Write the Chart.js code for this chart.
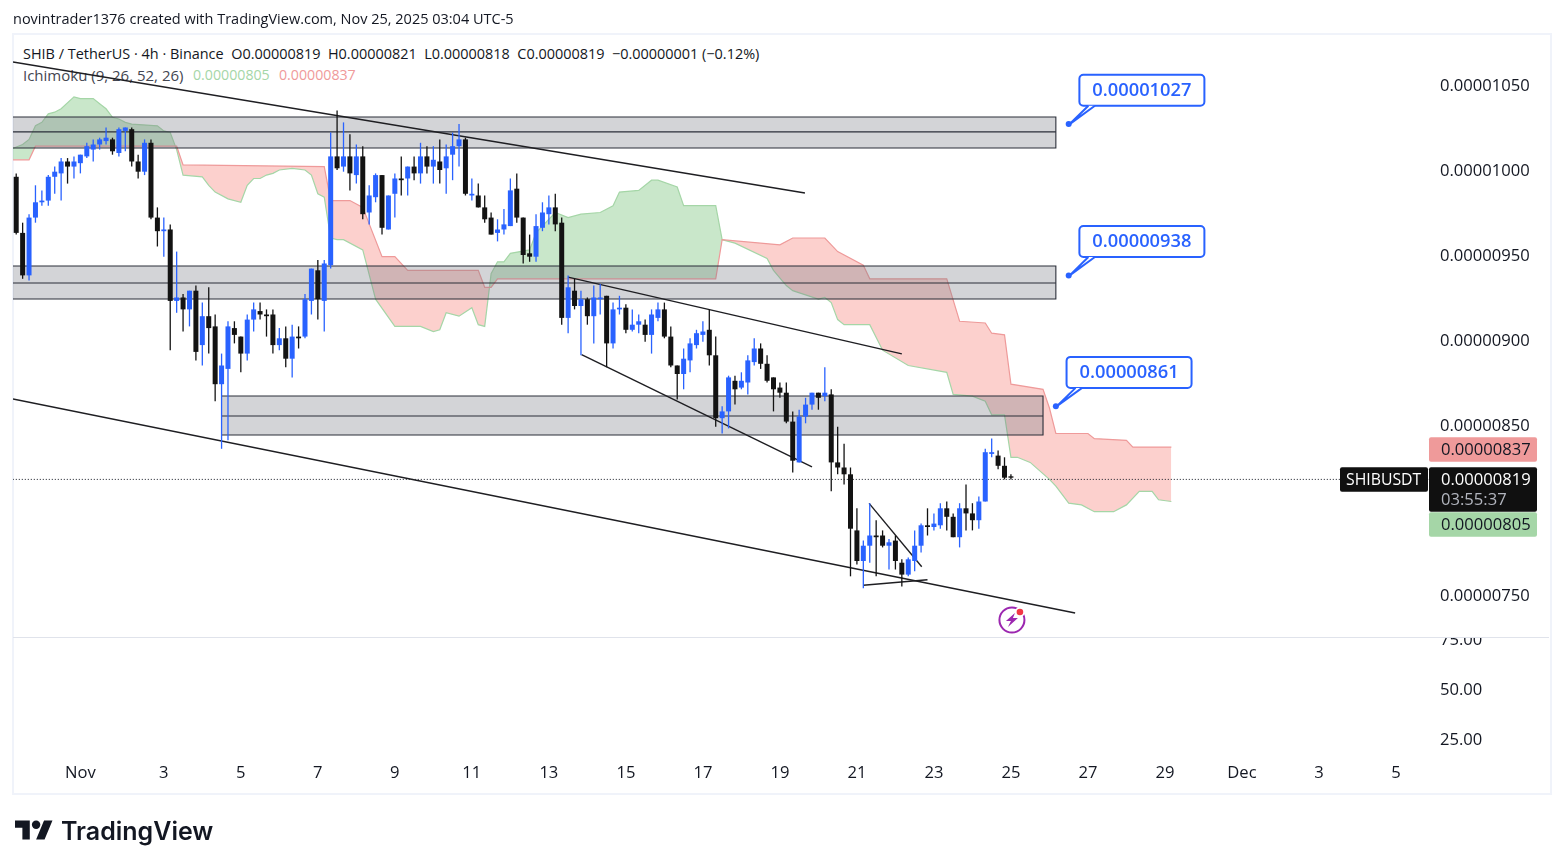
<!DOCTYPE html>
<html>
<head>
<meta charset="utf-8">
<title>SHIBUSDT</title>
<script src="https://cdn.jsdelivr.net/npm/chart.js@4/dist/chart.umd.min.js"></script>
<style>
  html, body { margin: 0; padding: 0; background: #fff; width: 1563px; height: 868px; overflow: hidden; }
  body { font-family: "Open Sans", sans-serif; color: #131722; position: relative; }
  #frame { position: absolute; left: 12px; top: 33px; width: 1536px; height: 758px; border: 2px solid #f0f3fa; }
  #chart { position: absolute; left: 0; top: 0; z-index: 2; }
  .txt { position: absolute; white-space: pre; font-size: 14.45px; line-height: 18px; z-index: 1; }
  #byline { left: 13px; top: 10px; font-size: 14.5px; z-index: 3; }
  #legend1 { left: 23px; top: 45px; }
  #legend2 { left: 23px; top: 66px; color: #434651; font-size: 15px; }
  #legendA { left: 193px; top: 66px; color: #a5d6a7; font-size: 14.2px; }
  #legendB { left: 279px; top: 66px; color: #ef9a9a; font-size: 14.2px; }
  #logo { position: absolute; left: 15px; top: 816px; z-index: 3; }
  #logotext { position: absolute; left: 61px; top: 814px; font: 600 25px/34px Inter, sans-serif; z-index: 3; color: #131722; }
</style>
</head>
<body>
<div id="frame"></div>
<div class="txt" id="byline">novintrader1376 created with TradingView.com, Nov 25, 2025 03:04 UTC-5</div>
<div class="txt" id="legend1">SHIB / TetherUS · 4h · Binance  O0.00000819  H0.00000821  L0.00000818  C0.00000819  −0.00000001 (−0.12%)</div>
<div class="txt" id="legend2">Ichimoku (9, 26, 52, 26)</div>
<div class="txt" id="legendA">0.00000805</div>
<div class="txt" id="legendB">0.00000837</div>
<canvas id="chart" width="1563" height="868"></canvas>
<svg id="logo" width="38" height="30" viewBox="0 0 36 28"><path fill="#131722" d="M14 22H7V11H0V4h14v18zM28 22h-8l7.5-18h8L28 22z"/><circle fill="#131722" cx="20" cy="8" r="4"/></svg>
<div id="logotext">TradingView</div>
<script>
// prices are in units of 0.00000001, one candle every 4h
const opens = [
  996,963,938,972,981,982,996,998,1005,1002,
  1004,1008,1012,1015,1017,1018,1010,1023,1024,1005,
  999,1016,972,964,965,923,925,918,929,897,
  914,908,874,883,907,902,892,912,917,915,
  915,897,901,889,902,902,923,941,923,944,
  1008,1002,1008,997,1008,975,984,997,965,986,
  995,995,1002,998,1008,1002,1005,1001,1009,1014,
  1018,985,985,978,972,963,965,967,989,972,
  951,949,966,974,978,969,913,929,920,924,
  914,924,926,898,918,919,906,909,909,903,
  913,918,902,885,880,888,897,903,906,891,
  854,858,876,872,875,887,895,886,878,872,
  869,852,828,855,862,869,867,868,828,825,
  821,788,770,779,785,785,779,782,769,762,
  770,779,791,790,791,801,796,784,801,798,
  794,805,833,832,826,819,
];
const highs = [
  998,969,974,991,988,997,1002,1007,1007,1008,
  1009,1016,1018,1019,1025,1019,1025,1025,1025,1009,
  1018,1018,978,972,968,952,927,929,932,922,
  931,915,892,911,911,902,915,922,922,918,
  918,907,908,909,908,927,942,947,947,1022,
  1035,1028,1021,1015,1014,991,998,997,985,998,
  1008,1002,1008,1016,1014,1014,1018,1015,1022,1027,
  1019,995,992,985,975,971,977,995,998,972,
  962,974,981,985,986,972,938,936,929,925,
  932,933,926,922,926,921,918,915,912,918,
  922,922,908,885,895,901,906,911,918,902,
  861,879,879,881,891,901,898,891,878,875,
  875,858,859,866,869,869,884,871,849,839,
  825,801,782,804,794,788,783,785,771,772,
  788,792,801,798,804,805,798,804,815,804,
  808,836,842,835,831,821,
];
const lows = [
  962,936,935,969,979,979,986,982,992,995,
  998,1007,1005,1012,1015,1009,1008,1011,1002,995,
  997,971,955,949,894,916,905,908,888,885,
  892,864,836,841,898,881,888,905,912,902,
  892,894,884,878,895,901,915,912,905,942,
  1000,999,988,992,971,968,981,962,965,972,
  985,985,994,992,998,992,992,986,994,1002,
  985,982,978,969,962,958,962,967,969,945,
  946,946,964,968,964,909,904,918,891,909,
  898,915,884,895,915,904,905,904,899,892,
  911,901,884,865,871,881,895,899,885,849,
  845,848,862,871,868,885,883,875,858,866,
  851,822,828,851,859,859,864,811,821,815,
  761,768,754,769,761,778,765,765,755,761,
  764,775,785,788,789,788,784,778,788,788,
  789,805,831,824,818,818,
];
const closes = [
  963,938,972,981,982,996,999,1005,1002,1005,
  1009,1014,1015,1018,1019,1011,1024,1025,1005,999,
  1016,972,964,965,923,925,918,929,893,914,
  907,874,885,908,903,892,912,918,915,914,
  897,901,889,902,901,924,942,924,945,1008,
  1001,1008,998,1008,974,985,997,966,985,995,
  994,1002,998,1008,1002,1006,1000,1008,1014,1018,
  986,986,978,971,962,965,968,988,972,950,
  949,967,975,978,968,913,931,920,924,914,
  925,925,898,918,919,906,909,911,903,915,
  918,902,885,880,889,898,904,905,891,854,
  858,878,871,876,888,895,886,876,871,869,
  852,829,855,862,869,866,869,828,825,821,
  789,770,779,785,784,779,781,770,762,771,
  779,791,790,792,801,796,784,801,798,794,
  805,834,834,826,819,819,
];

const spanABars = [-1,1,2,3,4,5,6,7,9,10,12,13,14,15,16,17,18,22,23,24,25,26,29,30,31,33,35,36,37,38,39,40,41,43,45,46,47,48,49,50,51,54,56,59,63,65,66,67,69,71,72,73,74,75,76,77,80,81,84,86,88,91,93,94,97,99,100,103,104,109,110,112,117,118,120,121,125,126,127,128,129,130,133,135,139,145,146,149,151,152,154,155,156,158,161,162,163,164,166,168,171,173,175,177,178,180];
const spanAPrices = [1012,1015,1018,1026,1028,1033,1034,1036,1043,1042,1042,1039,1036,1031,1030,1028,1027,1026,1023,1022,1012,997,996,991,987,983,981,991,995,995,997,998,1000,1001,1000,997,986,984,960,959,959,953,924,908,908,905,906,916,914,919,909,908,939,946,946,951,953,963,975,972,974,975,979,987,988,994,994,990,979,979,959,957,948,941,932,929,924,925,922,912,909,909,909,894,885,881,868,867,864,856,856,831,831,828,818,814,809,804,803,799,799,803,811,811,806,805];
const spanBBars = [-1,2,3,25,26,48,49,52,54,57,59,61,72,73,74,75,109,110,119,121,126,128,132,133,145,147,151,152,154,155,160,161,162,167,168,173,174,180];
const spanBPrices = [1006,1006,1014,1014,1003,1002,982,982,978,949,949,941,941,931,931,936,936,959,956,960,960,952,944,936,936,911,910,904,903,874,871,860,845,845,842,841,837,837];

const zoneLeft = [-1, -1, 32];
const zoneRight = [162, 162, 160];
const zoneTop = [1031.2, 943.5, 867.1];
const zoneMid = [1022.4, 933.5, 855.3];
const zoneBottom = [1012.9, 924.1, 844.1];

const trendFromBar = [-0.5, -0.5, 86, 88.1, 132.9, 132];
const trendFromPrice = [1063.5, 865.3, 937, 891.4, 803.9, 755.7];
const trendToBar = [122.9, 165, 138, 124, 141.1, 142];
const trendToPrice = [986.5, 739.4, 891.8, 825.3, 766.6, 759];

const calloutBars = [164, 164, 162];
const calloutPrices = [1027, 938, 861];

const tickBars = [10, 23, 35, 47, 59, 71, 83, 95, 107, 119, 131, 143, 155, 167, 179, 191, 203, 215];
const tickLabels = ['Nov', '3', '5', '7', '9', '11', '13', '15', '17', '19', '21', '23', '25', '27', '29', 'Dec', '3', '5'];
const priceTicks = [750, 850, 900, 950, 1000, 1050];
const lowerTicks = [25, 50, 75];

const lastPrice = 819;
const priceLineLevel = 818;
const spanAPrice = 805;
const spanBPrice = 837;
const lastBar = 155;

const BLUE = '#2962ff';
const BLACK = '#131313';
const AXIS_FONT = '16.6px "Open Sans", sans-serif';

function fmtPrice(v) {
  return '0.' + String(Math.round(v)).padStart(8, '0');
}

function lineSet(points, extra) {
  return Object.assign({
    type: 'line',
    data: points,
    pointRadius: 0,
    tension: 0,
    fill: false,
    borderColor: '#1e1e22',
    borderWidth: 1.4,
    order: 5,
  }, extra);
}

function pairs(bars, prices) {
  return bars.map((b, i) => ({ x: b, y: prices[i] }));
}

const datasets = [];

// candles: wicks first so that the bodies land on top
datasets.push({
  type: 'bar',
  data: highs.map((h, i) => ({ x: i, y: [lows[i], h] })),
  backgroundColor: closes.map((c, i) => (c > opens[i] ? BLUE : BLACK)),
  barThickness: 1.3,
  maxBarThickness: 1.3,
  grouped: false,
  inflateAmount: 0,
  borderWidth: 0,
  order: 2,
});
datasets.push({
  type: 'bar',
  data: opens.map((o, i) => ({ x: i, y: [Math.min(o, closes[i]), Math.max(o, closes[i])] })),
  backgroundColor: closes.map((c, i) => (c > opens[i] ? BLUE : BLACK)),
  barThickness: 5,
  maxBarThickness: 5,
  barPercentage: 1,
  categoryPercentage: 1,
  minBarLength: 1.4,
  grouped: false,
  inflateAmount: 0,
  borderWidth: 0,
  order: 1,
});

zoneTop.forEach((top, i) => {
  const l = zoneLeft[i], r = zoneRight[i], b = zoneBottom[i];
  datasets.push(lineSet(pairs([l, r], [top, top]), {
    borderWidth: 0,
    fill: { target: { value: b } },
    backgroundColor: 'rgba(120,123,134,0.33)',
    order: 8,
  }));
  datasets.push(lineSet(pairs([l, r, r, l], [top, top, b, b]), { borderColor: '#2a2e39', borderWidth: 1.1, order: 7 }));
  datasets.push(lineSet(pairs([l, r], [zoneMid[i], zoneMid[i]]), { borderColor: '#2a2e39', borderWidth: 1.1, order: 7 }));
});

for (let i = 0; i < trendFromBar.length; i++) {
  datasets.push(lineSet(pairs([trendFromBar[i], trendToBar[i]], [trendFromPrice[i], trendToPrice[i]]), { order: 3 }));
}

datasets.push(lineSet(pairs([-1, 221], [priceLineLevel, priceLineLevel]), {
  borderColor: '#131722',
  borderWidth: 1,
  borderDash: [1, 2],
  order: 4,
}));

// ichimoku cloud, span A fills against span B which is pushed right after it
const spanAIndex = datasets.length;
datasets.push(lineSet(pairs(spanABars, spanAPrices), {
  borderColor: '#a5d6a7',
  borderWidth: 1.2,
  fill: { target: spanAIndex + 1, above: 'rgba(76,175,80,0.3)', below: 'rgba(244,67,54,0.25)' },
  order: 10,
}));
datasets.push(lineSet(pairs(spanBBars, spanBPrices), {
  borderColor: '#ef9a9a',
  borderWidth: 1.2,
  order: 9,
}));

function drawCallouts(ctx, chart) {
  const xs = chart.scales.x, ys = chart.scales.y;
  calloutBars.forEach((bar, i) => {
    const px = xs.getPixelForValue(bar);
    const py = ys.getPixelForValue(calloutPrices[i]);
    const bx = px + 10.7, by = py - 49.4, bw = 125, bh = 31;
    ctx.save();
    ctx.strokeStyle = BLUE;
    ctx.fillStyle = '#fff';
    ctx.lineWidth = 2;
    ctx.beginPath();
    ctx.roundRect(bx, by, bw, bh, 4);
    ctx.fill();
    ctx.stroke();
    ctx.beginPath();
    ctx.moveTo(bx + 9, by + bh);
    ctx.lineTo(px + 1, py);
    ctx.lineTo(bx + 15.5, by + bh);
    ctx.closePath();
    ctx.fill();
    ctx.beginPath();
    ctx.moveTo(bx + 9, by + bh);
    ctx.lineTo(px + 1, py);
    ctx.lineTo(bx + 15.5, by + bh);
    ctx.stroke();
    ctx.fillStyle = BLUE;
    ctx.beginPath();
    ctx.arc(px, py, 3, 0, Math.PI * 2);
    ctx.fill();
    ctx.font = '600 18.3px "Open Sans", sans-serif';
    ctx.textAlign = 'center';
    ctx.textBaseline = 'middle';
    ctx.fillText(fmtPrice(calloutPrices[i]), bx + bw / 2, by + 16);
    ctx.restore();
  });
}

function drawBadges(ctx) {
  ctx.save();
  ctx.font = AXIS_FONT;
  ctx.textBaseline = 'middle';
  ctx.textAlign = 'left';
  ctx.fillStyle = '#ef9a9a';
  ctx.beginPath(); ctx.roundRect(1429, 437.3, 108, 24.4, 2); ctx.fill();
  ctx.fillStyle = '#131722';
  ctx.fillText(fmtPrice(spanBPrice), 1441, 450);

  ctx.fillStyle = '#a5d6a7';
  ctx.beginPath(); ctx.roundRect(1429, 512.3, 108, 24.4, 2); ctx.fill();
  ctx.fillStyle = '#131722';
  ctx.fillText(fmtPrice(spanAPrice), 1441, 525);

  ctx.fillStyle = '#101010';
  ctx.beginPath(); ctx.roundRect(1429, 467.3, 108, 44.4, 2); ctx.fill();
  ctx.beginPath(); ctx.roundRect(1340, 467.3, 88, 24.4, 2); ctx.fill();
  ctx.fillStyle = '#fff';
  ctx.fillText(fmtPrice(lastPrice), 1441, 480);
  ctx.font = '15.8px "Open Sans", sans-serif';
  ctx.fillText('SHIBUSDT', 1346, 480);
  ctx.font = AXIS_FONT;
  ctx.fillStyle = '#b2b5be';
  ctx.fillText('03:55:37', 1441, 500);
  ctx.restore();
}

function drawIcon(ctx, chart) {
  const cx = chart.scales.x.getPixelForValue(lastBar) + 1;
  const cy = 620;
  ctx.save();
  ctx.strokeStyle = '#9c27b0';
  ctx.fillStyle = '#9c27b0';
  ctx.lineWidth = 2;
  ctx.beginPath();
  ctx.arc(cx, cy, 12.5, 0, Math.PI * 2);
  ctx.stroke();
  ctx.beginPath();
  ctx.moveTo(cx + 3, cy - 7);
  ctx.lineTo(cx - 6, cy + 1);
  ctx.lineTo(cx - 1, cy + 1);
  ctx.lineTo(cx - 4, cy + 7);
  ctx.lineTo(cx + 6, cy - 2);
  ctx.lineTo(cx + 1, cy - 2);
  ctx.closePath();
  ctx.fill();
  ctx.fillStyle = '#fff';
  ctx.beginPath();
  ctx.arc(cx + 8, cy - 8, 5, 0, Math.PI * 2);
  ctx.fill();
  ctx.fillStyle = '#f23645';
  ctx.beginPath();
  ctx.arc(cx + 8, cy - 8, 3.3, 0, Math.PI * 2);
  ctx.fill();
  ctx.restore();
}

const overlays = {
  id: 'overlays',
  afterDraw(chart) {
    const ctx = chart.ctx;
    // price pane sits over the lower pane, its edge cuts the 75.00 label
    ctx.fillStyle = '#fff';
    ctx.fillRect(1431, 625, 118, 12);
    ctx.fillStyle = '#e0e3eb';
    ctx.fillRect(13, 637, 1536, 1);
    drawIcon(ctx, chart);
    drawCallouts(ctx, chart);
    drawBadges(ctx);
  },
};

function axisWidth(scale) {
  scale.width = 120;
  scale.paddingTop = 0;
  scale.paddingBottom = 0;
}

new Chart(document.getElementById('chart'), {
  type: 'bar',
  data: { datasets },
  plugins: [overlays],
  options: {
    responsive: false,
    animation: false,
    events: [],
    layout: { padding: { left: 13, top: 35, right: 13, bottom: 75 } },
    plugins: { legend: { display: false }, tooltip: { enabled: false } },
    scales: {
      x: {
        type: 'linear',
        // bar charts default to offset: true, which would pull the ticks inwards
        offset: false,
        min: -0.5,
        max: 220.3,
        grid: { display: false, drawTicks: false, offset: false },
        border: { display: false },
        afterBuildTicks(scale) { scale.ticks = tickBars.map((v) => ({ value: v })); },
        afterFit(scale) {
          scale.height = 36;
          scale.paddingLeft = 0;
          scale.paddingRight = 0;
        },
        ticks: {
          autoSkip: false,
          maxRotation: 0,
          includeBounds: false,
          padding: 6,
          color: '#131722',
          font: { family: '"Open Sans", sans-serif', size: 16.6, weight: '500' },
          callback: (v, i) => tickLabels[i],
        },
      },
      y: {
        type: 'linear',
        position: 'right',
        stack: 'panes',
        stackWeight: 602,
        min: 725.3,
        max: 1079.4,
        grid: { display: false, drawTicks: false },
        border: { display: false },
        afterBuildTicks(scale) { scale.ticks = priceTicks.map((v) => ({ value: v })); },
        afterFit: axisWidth,
        ticks: {
          autoSkip: false,
          padding: 10,
          labelOffset: 1.5,
          color: '#131722',
          font: { family: '"Open Sans", sans-serif', size: 16.6 },
          callback: (v) => fmtPrice(v),
        },
      },
      lower: {
        type: 'linear',
        position: 'right',
        stack: 'panes',
        stackWeight: 120,
        min: 16.25,
        max: 76.25,
        grid: { display: false, drawTicks: false },
        border: { display: false },
        afterBuildTicks(scale) { scale.ticks = lowerTicks.map((v) => ({ value: v })); },
        afterFit: axisWidth,
        ticks: {
          autoSkip: false,
          padding: 10,
          labelOffset: 1,
          color: '#131722',
          font: { family: '"Open Sans", sans-serif', size: 16.6 },
          callback: (v) => v.toFixed(2),
        },
      },
    },
  },
});
</script>
</body>
</html>
